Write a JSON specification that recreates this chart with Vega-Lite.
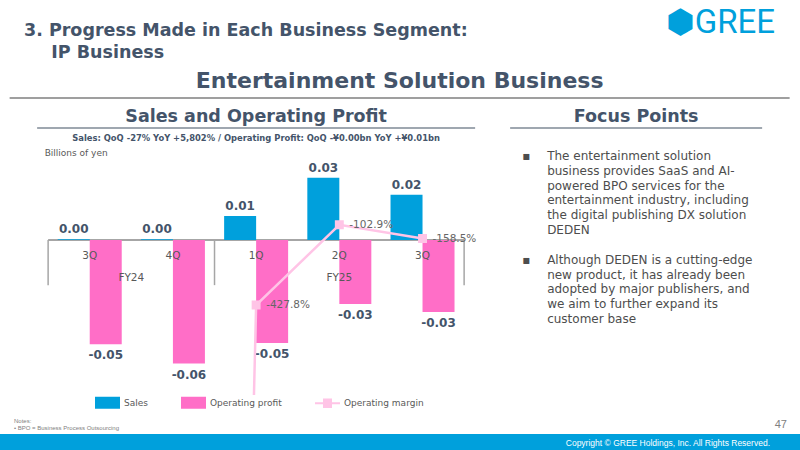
{
  "$schema": "https://vega.github.io/schema/vega-lite/v6.json",
  "background": "white",
  "padding": 0,
  "spacing": 0,
  "center": true,
  "config": {
    "view": {"stroke": null},
    "font": "DejaVu Sans",
    "title": {"color": "#44546a", "fontWeight": "bold", "baseline": "alphabetic"},
    "locale": {"number": {"decimal": ".", "thousands": ",", "grouping": [3], "currency": ["$", ""], "minus": "-"}}
  },
  "datasets": {
    "bars": [
      {"cat": "FY24 3Q", "q": "3Q", "series": "Sales", "value": 0.00036},
      {"cat": "FY24 3Q", "q": "3Q", "series": "Operating profit", "value": -0.0485},
      {"cat": "FY24 4Q", "q": "4Q", "series": "Sales", "value": 0.0004},
      {"cat": "FY24 4Q", "q": "4Q", "series": "Operating profit", "value": -0.0575},
      {"cat": "FY25 1Q", "q": "1Q", "series": "Sales", "value": 0.0112},
      {"cat": "FY25 1Q", "q": "1Q", "series": "Operating profit", "value": -0.0479},
      {"cat": "FY25 2Q", "q": "2Q", "series": "Sales", "value": 0.029},
      {"cat": "FY25 2Q", "q": "2Q", "series": "Operating profit", "value": -0.0298},
      {"cat": "FY25 3Q", "q": "3Q", "series": "Sales", "value": 0.0211},
      {"cat": "FY25 3Q", "q": "3Q", "series": "Operating profit", "value": -0.0335}
    ],
    "margin": [
      {"cat": "FY24 3Q", "margin": -134.7},
      {"cat": "FY24 4Q", "margin": -143.75},
      {"cat": "FY25 1Q", "margin": -4.278},
      {"cat": "FY25 2Q", "margin": -1.029},
      {"cat": "FY25 3Q", "margin": -1.585}
    ],
    "focus": [
      {"row": 0, "col": "b", "text": "▪"},
      {"row": 0, "col": "t", "text": "The entertainment solution"},
      {"row": 1, "col": "t", "text": "business provides SaaS and AI-"},
      {"row": 2, "col": "t", "text": "powered BPO services for the"},
      {"row": 3, "col": "t", "text": "entertainment industry, including"},
      {"row": 4, "col": "t", "text": "the digital publishing DX solution"},
      {"row": 5, "col": "t", "text": "DEDEN"},
      {"row": 7, "col": "b", "text": "▪"},
      {"row": 7, "col": "t", "text": "Although DEDEN is a cutting-edge"},
      {"row": 8, "col": "t", "text": "new product, it has already been"},
      {"row": 9, "col": "t", "text": "adopted by major publishers, and"},
      {"row": 10, "col": "t", "text": "we aim to further expand its"},
      {"row": 11, "col": "t", "text": "customer base"}
    ]
  },
  "vconcat": [
    {
      "spacing": 0,
      "bounds": "flush",
      "hconcat": [
        {
          "width": 600,
          "height": 60,
          "title": {"text": ["3. Progress Made in Each Business Segment:", "\u2800\u2800IP Business"], "anchor": "start", "frame": "group", "dx": 24, "offset": -61, "fontSize": 17.5, "font": "DejaVu Sans", "lineHeight": 22},
          "data": {"values": [{}]},
          "mark": {"type": "text", "text": ""}
        },
        {
          "width": 200,
          "height": 60,
          "title": {"text": "⬢GREE", "anchor": "end", "frame": "group", "dx": -25, "offset": -40, "fontSize": 33, "font": "Roboto", "fontWeight": "normal", "color": "#00a0dc"},
          "data": {"values": [{}]},
          "mark": {"type": "text", "text": ""}
        }
      ]
    },
    {
      "width": 780,
      "height": 37,
      "title": {"text": "Entertainment Solution Business", "anchor": "middle", "frame": "group", "offset": -32, "fontSize": 22, "font": "DejaVu Sans"},
      "data": {"values": [{}]},
      "mark": {"type": "rule", "color": "#7f7f7f", "strokeWidth": 1.5},
      "encoding": {"y": {"datum": 0, "type": "quantitative", "scale": {"domain": [0, 1]}, "axis": null}}
    },
    {
      "spacing": 32,
      "hconcat": [
        {
          "spacing": 0,
          "center": true,
          "bounds": "flush",
          "vconcat": [
            {
              "width": 438,
              "height": 29,
              "title": {"text": "Sales and Operating Profit", "anchor": "middle", "frame": "group", "offset": -26, "fontSize": 17.5, "font": "DejaVu Sans"},
              "data": {"values": [{}]},
              "mark": {"type": "rule", "color": "#7f8a96", "strokeWidth": 1.5},
              "encoding": {"y": {"datum": 0, "type": "quantitative", "scale": {"domain": [0, 1]}, "axis": null}}
            },
            {
              "width": 416,
              "height": 267,
              "title": {"text": "Sales: QoQ -27% YoY +5,802% / Operating Profit: QoQ -¥0.00bn YoY +¥0.01bn", "anchor": "middle", "frame": "group", "offset": -14, "fontSize": 8.4, "font": "DejaVu Sans", "fontWeight": "bold", "color": "#44546a"},
              "resolve": {"scale": {"y": "independent"}},
              "layer": [
                {
                  "data": {"name": "bars"},
                  "layer": [
                    {
                      "data": {"values": [{}]},
                      "mark": {"type": "rule", "color": "#a6a6a6", "strokeWidth": 2},
                      "encoding": {"y": {"datum": 0, "type": "quantitative", "scale": {"domain": [-0.0721, 0.0521], "nice": false, "zero": false}}}
                    },
                    {
                      "data": {"values": [{"cat": "FY24 3Q"}, {"cat": "FY25 1Q"}]},
                      "mark": {"type": "rule", "color": "#a6a6a6", "strokeWidth": 1.5},
                      "encoding": {
                        "x": {"field": "cat", "type": "nominal", "bandPosition": 0, "scale": {"domain": ["FY24 3Q", "FY24 4Q", "FY25 1Q", "FY25 2Q", "FY25 3Q"], "paddingInner": 0, "paddingOuter": 0}, "axis": null},
                        "y": {"datum": 0, "type": "quantitative"},
                        "y2": {"datum": -0.021}
                      }
                    },
                    {
                      "data": {"values": [{"cat": "FY25 3Q"}]},
                      "mark": {"type": "rule", "color": "#a6a6a6", "strokeWidth": 1.5},
                      "encoding": {
                        "x": {"field": "cat", "type": "nominal", "bandPosition": 1, "scale": {"domain": ["FY24 3Q", "FY24 4Q", "FY25 1Q", "FY25 2Q", "FY25 3Q"], "paddingInner": 0, "paddingOuter": 0}, "axis": null},
                        "y": {"datum": 0, "type": "quantitative"},
                        "y2": {"datum": -0.021}
                      }
                    },
                    {
                      "mark": {"type": "bar"},
                      "encoding": {
                        "x": {"field": "cat", "type": "nominal", "scale": {"domain": ["FY24 3Q", "FY24 4Q", "FY25 1Q", "FY25 2Q", "FY25 3Q"], "paddingInner": 0, "paddingOuter": 0}, "axis": null},
                        "xOffset": {"field": "series", "type": "nominal", "scale": {"domain": ["Sales", "Operating profit"], "paddingInner": 0, "paddingOuter": 0.3}},
                        "y": {
                          "field": "value",
                          "type": "quantitative",
                          "axis": {"title": "Billions of yen", "labels": false, "ticks": false, "domain": false, "grid": false, "titleAngle": 0, "titleAlign": "left", "titleBaseline": "middle", "titleX": -4, "titleY": 24, "titleFontSize": 9, "titleFontWeight": "normal", "titleColor": "#595959", "titleFont": "DejaVu Sans"}
                        },
                        "color": {
                          "field": "series",
                          "type": "nominal",
                          "scale": {"domain": ["Sales", "Operating profit", "Operating margin"], "range": ["#00a0dc", "#ff6ec7", "#ffc4e6"]},
                          "legend": {
                            "orient": "none",
                            "legendX": 95,
                            "legendY": 390,
                            "direction": "horizontal",
                            "title": null,
                            "padding": 0,
                            "labelFontSize": 9,
                            "labelColor": "#595959",
                            "labelFont": "DejaVu Sans",
                            "labelOffset": 4,
                            "columnPadding": 33,
                            "symbolSize": 625,
                            "symbolType": "M-1,-0.48H1V0.48H-1Z",
                            "symbolStrokeWidth": 0,
                            "symbolOpacity": 1,
                            "encode": {"symbols": {"update": {"shape": {"signal": "datum.value === 'Operating margin' ? 'M-1,-0.08H1V0.08H-1Z M-0.36,-0.38H0.36V0.38H-0.36Z' : 'M-1,-0.48H1V0.48H-1Z'"}}}}
                          }
                        }
                      }
                    },
                    {
                      "transform": [{"filter": "datum.value >= 0"}],
                      "mark": {"type": "text", "baseline": "bottom", "dy": -3, "fontSize": 12, "fontWeight": "bold", "color": "#44546a"},
                      "encoding": {
                        "x": {"field": "cat", "type": "nominal", "scale": {"domain": ["FY24 3Q", "FY24 4Q", "FY25 1Q", "FY25 2Q", "FY25 3Q"], "paddingInner": 0, "paddingOuter": 0}, "axis": null},
                        "xOffset": {"field": "series", "type": "nominal"},
                        "y": {"field": "value", "type": "quantitative"},
                        "text": {"field": "value", "type": "quantitative", "format": ".2f"}
                      }
                    },
                    {
                      "transform": [{"filter": "datum.value < 0"}],
                      "mark": {"type": "text", "baseline": "top", "dy": 6, "fontSize": 12, "fontWeight": "bold", "color": "#44546a"},
                      "encoding": {
                        "x": {"field": "cat", "type": "nominal", "scale": {"domain": ["FY24 3Q", "FY24 4Q", "FY25 1Q", "FY25 2Q", "FY25 3Q"], "paddingInner": 0, "paddingOuter": 0}, "axis": null},
                        "xOffset": {"field": "series", "type": "nominal"},
                        "y": {"field": "value", "type": "quantitative"},
                        "text": {"field": "value", "type": "quantitative", "format": ".2f"}
                      }
                    },
                    {
                      "transform": [{"filter": "datum.series === 'Sales'"}],
                      "mark": {"type": "text", "baseline": "middle", "dy": 16, "fontSize": 10.5, "color": "#595959"},
                      "encoding": {
                        "x": {"field": "cat", "type": "nominal", "scale": {"domain": ["FY24 3Q", "FY24 4Q", "FY25 1Q", "FY25 2Q", "FY25 3Q"], "paddingInner": 0, "paddingOuter": 0}, "axis": null},
                        "y": {"datum": 0, "type": "quantitative"},
                        "text": {"field": "q"}
                      }
                    },
                    {
                      "data": {"values": [{"cat": "FY24 3Q", "fy": "FY24"}]},
                      "mark": {"type": "text", "baseline": "middle", "dy": 38, "fontSize": 10.5, "color": "#595959"},
                      "encoding": {
                        "x": {"field": "cat", "type": "nominal", "bandPosition": 1, "scale": {"domain": ["FY24 3Q", "FY24 4Q", "FY25 1Q", "FY25 2Q", "FY25 3Q"], "paddingInner": 0, "paddingOuter": 0}, "axis": null},
                        "y": {"datum": 0, "type": "quantitative"},
                        "text": {"field": "fy"}
                      }
                    },
                    {
                      "data": {"values": [{"cat": "FY25 2Q", "fy": "FY25"}]},
                      "mark": {"type": "text", "baseline": "middle", "dy": 38, "fontSize": 10.5, "color": "#595959"},
                      "encoding": {
                        "x": {"field": "cat", "type": "nominal", "scale": {"domain": ["FY24 3Q", "FY24 4Q", "FY25 1Q", "FY25 2Q", "FY25 3Q"], "paddingInner": 0, "paddingOuter": 0}, "axis": null},
                        "y": {"datum": 0, "type": "quantitative"},
                        "text": {"field": "fy"}
                      }
                    }
                  ]
                },
                {
                  "data": {"name": "margin"},
                  "encoding": {
                    "x": {"field": "cat", "type": "nominal", "scale": {"domain": ["FY24 3Q", "FY24 4Q", "FY25 1Q", "FY25 2Q", "FY25 3Q"], "paddingInner": 0, "paddingOuter": 0}, "axis": null},
                    "y": {"field": "margin", "type": "quantitative", "scale": {"domain": [-7.92, 2.89], "nice": false, "zero": false}, "axis": null}
                  },
                  "layer": [
                    {
                      "mark": {"type": "line", "strokeWidth": 2.5, "clip": true},
                      "encoding": {"color": {"datum": "Operating margin", "type": "nominal"}}
                    },
                    {
                      "mark": {"type": "point", "shape": "square", "filled": true, "size": 80, "opacity": 1, "clip": true},
                      "encoding": {"color": {"datum": "Operating margin", "type": "nominal"}}
                    },
                    {
                      "transform": [{"filter": "datum.margin > -7.92"}],
                      "mark": {"type": "text", "align": "left", "baseline": "middle", "dx": 10, "fontSize": 10.5, "color": "#666666"},
                      "encoding": {"text": {"field": "margin", "type": "quantitative", "format": ".1%"}}
                    }
                  ]
                }
              ]
            }
          ]
        },
        {
          "spacing": 0,
          "bounds": "flush",
          "vconcat": [
            {
              "width": 252,
              "height": 29,
              "title": {"text": "Focus Points", "anchor": "middle", "frame": "group", "offset": -26, "fontSize": 17.5, "font": "DejaVu Sans"},
              "data": {"values": [{}]},
              "mark": {"type": "rule", "color": "#7f8a96", "strokeWidth": 1.5},
              "encoding": {"y": {"datum": 0, "type": "quantitative", "scale": {"domain": [0, 1]}, "axis": null}}
            },
            {
              "width": 252,
              "height": 191,
              "data": {"name": "focus"},
              "mark": {"type": "text", "align": "left", "baseline": "middle", "fontSize": 12, "color": "#4d4d4d", "font": "DejaVu Sans"},
              "encoding": {
                "x": {"field": "col", "type": "ordinal", "scale": {"type": "point", "domain": ["b", "t"], "range": [12, 37], "padding": 0}, "axis": null},
                "y": {"field": "row", "type": "quantitative", "scale": {"domain": [-1.89, 11], "reverse": true, "nice": false, "zero": false}, "axis": null},
                "text": {"field": "text"}
              }
            }
          ]
        }
      ]
    },
    {
      "spacing": 0,
      "bounds": "flush",
      "vconcat": [
        {
          "width": 800,
          "height": 39,
          "title": {"text": ["Notes:", "•  BPO = Business Process Outsourcing"], "anchor": "start", "frame": "group", "dx": 14, "offset": -36, "fontSize": 6, "fontWeight": "normal", "color": "#808080", "lineHeight": 7, "font": "Liberation Sans"},
          "data": {"values": [{"page": "47"}]},
          "mark": {"type": "text", "align": "right", "baseline": "middle", "fontSize": 11, "color": "#808080", "dx": -13, "font": "Liberation Sans"},
          "encoding": {
            "x": {"value": "width"},
            "y": {"datum": 0.23, "type": "quantitative", "scale": {"domain": [0, 1]}, "axis": null},
            "text": {"field": "page"}
          }
        },
        {
          "width": 800,
          "height": 17,
          "view": {"fill": "#00a0dc", "stroke": null},
          "data": {"values": [{"c": "Copyright © GREE Holdings, Inc. All Rights Reserved."}]},
          "mark": {"type": "text", "align": "right", "baseline": "middle", "fontSize": 8.5, "color": "white", "dx": -30, "font": "Liberation Sans"},
          "encoding": {
            "x": {"value": "width"},
            "y": {"datum": 0.5, "type": "quantitative", "scale": {"domain": [0, 1]}, "axis": null},
            "text": {"field": "c"}
          }
        }
      ]
    }
  ]
}
